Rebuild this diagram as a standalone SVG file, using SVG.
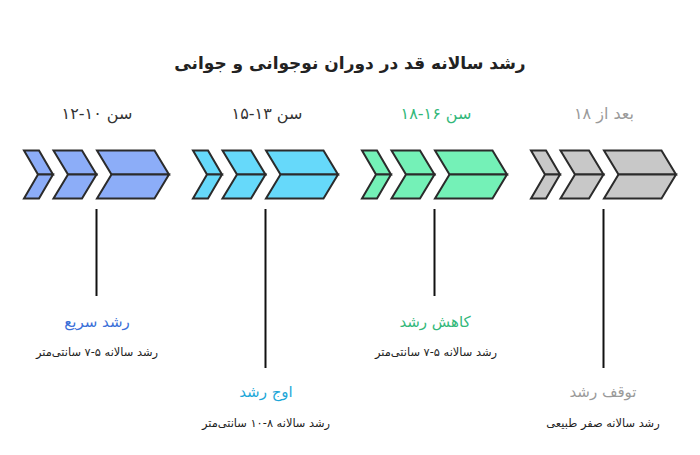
<svg xmlns="http://www.w3.org/2000/svg" width="700" height="455" viewBox="0 0 700 455">
<style>
text{font-family:"DejaVu Sans","Noto Sans",sans-serif;direction:rtl;text-anchor:middle}
.title{font-size:17px;font-weight:bold;fill:#222}
.age{font-size:16px}
.lbl{font-size:15px}
.sub{font-size:11.4px;fill:#222}
.chev polygon{stroke:#2b2b2b;stroke-width:2;stroke-linejoin:miter}
.c1{fill:#8cadf8}.c2{fill:#66d9fa}.c3{fill:#74f1b7}.c4{fill:#c8c8c8}
.t1{fill:#3a6fd8}.t2{fill:#1ea7d8}.t3{fill:#33b87a}.t4{fill:#9a9a9a}
.dark{fill:#333}
.conn line{stroke:#111;stroke-width:2}
</style>
<defs>
<g id="arrows" class="chev">
<polygon points="0,150.5 15,150.5 29,174.5 14,174.5"/>
<polygon points="14,174.5 29,174.5 15,198.5 0,198.5"/>
<polygon points="29.5,150.5 58,150.5 72.5,174.5 44,174.5"/>
<polygon points="44,174.5 72.5,174.5 58,198.5 29.5,198.5"/>
<polygon points="73,150.5 130.5,150.5 145,174.5 87.5,174.5"/>
<polygon points="87.5,174.5 145,174.5 130.5,198.5 73,198.5"/>
</g>
</defs>
<rect width="700" height="455" fill="#fff"/>
<text class="title" x="350" y="69">رشد سالانه قد در دوران نوجوانی و جوانی</text>
<g id="connectors" class="conn">
<line x1="96.5" y1="209" x2="96.5" y2="296"/>
<line x1="265.5" y1="209" x2="265.5" y2="368"/>
<line x1="434.5" y1="209" x2="434.5" y2="296"/>
<line x1="603.5" y1="209" x2="603.5" y2="368"/>
</g>
<g id="stage1">
<use href="#arrows" x="24" class="chev c1"/>
<text class="age dark" x="97" y="119">سن ۱۰&#x200F;-&#x200F;۱۲</text>
<text class="lbl t1" x="97" y="327">رشد سریع</text>
<text class="sub" x="97" y="356">رشد سالانه ۵&#x200F;-&#x200F;۷ سانتی&#x200C;متر</text>
</g>
<g id="stage2">
<use href="#arrows" x="193" class="chev c2"/>
<text class="age dark" x="267" y="119">سن ۱۳&#x200F;-&#x200F;۱۵</text>
<text class="lbl t2" x="266" y="397">اوج رشد</text>
<text class="sub" x="266" y="427">رشد سالانه ۸&#x200F;-&#x200F;۱۰ سانتی&#x200C;متر</text>
</g>
<g id="stage3">
<use href="#arrows" x="362" class="chev c3"/>
<text class="age t3" x="436" y="119">سن ۱۶&#x200F;-&#x200F;۱۸</text>
<text class="lbl t3" x="435" y="327">کاهش رشد</text>
<text class="sub" x="436" y="356">رشد سالانه ۵&#x200F;-&#x200F;۷ سانتی&#x200C;متر</text>
</g>
<g id="stage4">
<use href="#arrows" x="531" class="chev c4"/>
<text class="age t4" x="604" y="119">بعد از ۱۸</text>
<text class="lbl t4" x="603" y="397">توقف رشد</text>
<text class="sub" x="603" y="427">رشد سالانه صفر طبیعی</text>
</g>
</svg>
